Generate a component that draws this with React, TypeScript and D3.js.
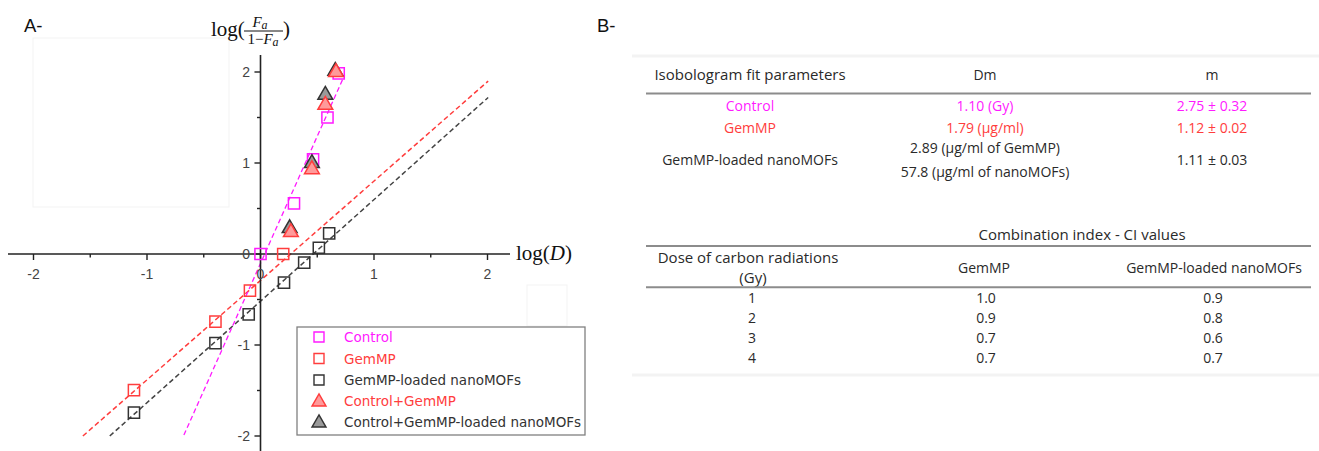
import React from "react";
import * as d3 from "d3";

// ---------- DATA ----------
const xTicks = [-2, -1, 0, 1, 2];
const xMinor = [-1.5, -0.5, 0.5, 1.5];
const yTicks = [-2, -1, 0, 1, 2];
const yMinor = [-1.5, -0.5, 0.5, 1.5];

const controlPts: [number, number][] = [
  [0, 0], [0.295, 0.557], [0.463, 1.04], [0.59, 1.5], [0.689, 1.985],
];
const gemPts: [number, number][] = [
  [-1.115, -1.495], [-0.397, -0.744], [-0.093, -0.403], [0.2, 0.0],
];
const nanoPts: [number, number][] = [
  [-1.115, -1.744], [-0.397, -0.98], [-0.104, -0.663], [0.207, -0.315],
  [0.385, -0.095], [0.514, 0.069], [0.605, 0.227],
];
const ctrlGemPts: [number, number][] = [
  [0.268, 0.238], [0.453, 0.93], [0.571, 1.637], [0.665, 1.997],
];
const ctrlNanoPts: [number, number][] = [
  [0.257, 0.282], [0.453, 0.997], [0.571, 1.747], [0.659, 2.01],
];

const controlFit: [number, number][] = [[-0.675, -1.99], [0.741, 1.967]];
const gemFit: [number, number][] = [[-1.565, -2.0], [2.006, 1.9]];
const nanoFit: [number, number][] = [[-1.328, -2.0], [2.006, 1.72]];

const legendLabels = [
  "Control",
  "GemMP",
  "GemMP-loaded nanoMOFs",
  "Control+GemMP",
  "Control+GemMP-loaded nanoMOFs",
];

const fitHeaders = ["Isobologram fit parameters", "Dm", "m"];
const fitNames = ["Control", "GemMP", "GemMP-loaded nanoMOFs"];
const fitDm = [["1.10 (Gy)"], ["1.79 (µg/ml)"], ["2.89 (µg/ml of GemMP)", "57.8 (µg/ml of nanoMOFs)"]];
const fitM = ["2.75 ± 0.32", "1.12 ± 0.02", "1.11 ± 0.03"];

const ciTitle = "Combination index - CI values";
const ciHeaders = [["Dose of carbon radiations", "(Gy)"], ["GemMP"], ["GemMP-loaded nanoMOFs"]];
const ciDoses = ["1", "2", "3", "4"];
const ciGemMP = ["1.0", "0.9", "0.7", "0.7"];
const ciNano = ["0.9", "0.8", "0.6", "0.7"];

// ---------- STYLE ----------
const MAGENTA = "#ff1aff";
const RED = "#ff3d3d";
const DARK = "#333333";
const TXT = "#2a2a2a";
const tableFont = "'Open Sans', 'Noto Sans', sans-serif";
const legendFont = "'DejaVu Sans', Verdana, sans-serif";
const tickFont = "'Liberation Sans', Arial, sans-serif";
const mathFont = "'Liberation Serif', 'Times New Roman', serif";
const TFS = 14;
const TFS_BIG = 15;

export default function App() {
  const x = d3.scaleLinear().domain([-2, 2]).range([33.5, 487.5]);
  const y = d3.scaleLinear().domain([-2, 2]).range([436, 72]);
  const x0 = x(0);
  const y0 = y(0);

  const sq = d3.symbol().type(d3.symbolSquare).size(125)() as string;
  const tri = d3.symbol().type(d3.symbolTriangle).size(95)() as string;
  const sqL = d3.symbol().type(d3.symbolSquare).size(100)() as string;
  const triL = d3.symbol().type(d3.symbolTriangle).size(85)() as string;

  const line = d3
    .line<[number, number]>()
    .x((d) => x(d[0]))
    .y((d) => y(d[1]));

  const squares = (pts: [number, number][], color: string) =>
    pts.map((p, i) => (
      <path
        key={i}
        d={sq}
        transform={`translate(${x(p[0])},${y(p[1])})`}
        fill="none"
        stroke={color}
        strokeWidth={1.5}
      />
    ));
  const triangles = (pts: [number, number][], fill: string, stroke: string) =>
    pts.map((p, i) => (
      <path
        key={i}
        d={tri}
        transform={`translate(${x(p[0])},${y(p[1])})`}
        fill={fill}
        stroke={stroke}
        strokeWidth={1.5}
      />
    ));

  const legendRows = [
    { sym: sqL, fill: "none", stroke: MAGENTA, color: MAGENTA },
    { sym: sqL, fill: "none", stroke: RED, color: RED },
    { sym: sqL, fill: "none", stroke: DARK, color: DARK },
    { sym: triL, fill: "#ff9a9a", stroke: RED, color: RED },
    { sym: triL, fill: "#9a9a9a", stroke: DARK, color: DARK },
  ];
  const legendY = [337, 358.5, 380, 401, 422];

  // table geometry
  const c1 = [750, 985, 1212];
  const c2 = [752, 986, 1213];
  const fitRowY = [105.7, 128.3, 160];
  const ciRowY = [298.3, 318.3, 338.3, 358.3];
  const fitColors = [MAGENTA, RED, TXT];

  const T = (props: { x: number; y: number; fill?: string; size?: number; children: React.ReactNode }) => (
    <text
      x={props.x}
      y={props.y}
      textAnchor="middle"
      fontFamily={tableFont}
      fontSize={props.size ?? TFS}
      fill={props.fill ?? TXT}
    >
      {props.children}
    </text>
  );

  return (
    <svg
      width={1319}
      height={451}
      style={{ position: "absolute", left: 0, top: 0, background: "#fff" }}
    >
      {/* faint scan artifacts */}
      <rect x={33} y={38} width={196} height={169} fill="none" stroke="#f3f3f3" strokeWidth={1} />
      <rect x={527} y={285} width={40} height={41} fill="none" stroke="#f3f3f3" strokeWidth={1} />
      <line x1={632} x2={1319} y1={56} y2={56} stroke="#f3f3f3" strokeWidth={3} />
      <line x1={632} x2={1319} y1={375} y2={375} stroke="#f3f3f3" strokeWidth={3} />

      {/* panel labels */}
      <text x={24} y={31.5} fontFamily={tickFont} fontSize={18.5} fill="#111">A-</text>
      <text x={597} y={31.5} fontFamily={tickFont} fontSize={18.5} fill="#111">B-</text>

      {/* ---- Panel A ---- */}
      <path d={line(gemFit) as string} fill="none" stroke={RED} strokeWidth={1.5} strokeDasharray="5,3" />
      <path d={line(nanoFit) as string} fill="none" stroke="#444" strokeWidth={1.5} strokeDasharray="5,3" />
      <path d={line(controlFit) as string} fill="none" stroke={MAGENTA} strokeWidth={1.3} strokeDasharray="5,3" />

      {/* axes */}
      <line x1={8} x2={510} y1={y0} y2={y0} stroke="#222" strokeWidth={1.6} />
      <line x1={x0} x2={x0} y1={55} y2={451} stroke="#222" strokeWidth={1.6} />
      {xTicks.map((t) => (
        <line key={"xt" + t} x1={x(t)} x2={x(t)} y1={y0} y2={y0 + 6} stroke="#222" strokeWidth={1.4} />
      ))}
      {xMinor.map((t) => (
        <line key={"xm" + t} x1={x(t)} x2={x(t)} y1={y0} y2={y0 + 3.5} stroke="#222" strokeWidth={1.4} />
      ))}
      {yTicks.map((t) => (
        <line key={"yt" + t} x1={x0 - 6} x2={x0} y1={y(t)} y2={y(t)} stroke="#222" strokeWidth={1.4} />
      ))}
      {yMinor.map((t) => (
        <line key={"ym" + t} x1={x0 - 3.5} x2={x0} y1={y(t)} y2={y(t)} stroke="#222" strokeWidth={1.4} />
      ))}
      {xTicks.map((t) => (
        <text key={"xl" + t} x={x(t)} y={279} textAnchor="middle" fontFamily={tickFont} fontSize={14} fill="#444">
          {t < 0 ? "-" + Math.abs(t) : String(t)}
        </text>
      ))}
      {yTicks.map((t) => (
        <text key={"yl" + t} x={250} y={y(t) + 5} textAnchor="end" fontFamily={tickFont} fontSize={14} fill="#444">
          {t < 0 ? "-" + Math.abs(t) : String(t)}
        </text>
      ))}

      {/* axis titles */}
      <text x={516} y={260} fontFamily={mathFont} fontSize={21} fill="#111">
        log(<tspan fontStyle="italic">D</tspan>)
      </text>
      <text x={211} y={35.5} fontFamily={mathFont} fontSize={21} fill="#111">log(</text>
      <text x={260} y={27} textAnchor="middle" fontFamily={mathFont} fontSize={15} fill="#111" fontStyle="italic">
        F<tspan fontSize={12} dy={2}>a</tspan>
      </text>
      <line x1={244} x2={283} y1={31} y2={31} stroke="#111" strokeWidth={1} />
      <text x={263} y={44} textAnchor="middle" fontFamily={mathFont} fontSize={15} fill="#111">
        1−<tspan fontStyle="italic">F</tspan><tspan fontStyle="italic" fontSize={12} dy={2}>a</tspan>
      </text>
      <text x={283} y={35.5} fontFamily={mathFont} fontSize={21} fill="#111">)</text>

      {/* markers */}
      {squares(gemPts, RED)}
      {squares(nanoPts, DARK)}
      {squares(controlPts, MAGENTA)}
      {triangles(ctrlNanoPts, "#9a9a9a", DARK)}
      {triangles(ctrlGemPts, "#ff9a9a", RED)}

      {/* legend */}
      <rect x={297} y={327} width={288} height={108} fill="#fff" stroke="#808080" strokeWidth={1.3} />
      {legendLabels.map((lab, i) => (
        <g key={lab}>
          <path
            d={legendRows[i].sym}
            transform={`translate(319,${legendY[i] + (i >= 3 ? 1 : 0)})`}
            fill={legendRows[i].fill}
            stroke={legendRows[i].stroke}
            strokeWidth={1.4}
          />
          <text x={344} y={legendY[i] + 5} fontFamily={legendFont} fontSize={13.5} fill={legendRows[i].color}>
            {lab}
          </text>
        </g>
      ))}

      {/* ---- Panel B ---- */}
      {fitHeaders.map((h, i) => (
        <T key={h} x={c1[i]} y={79.5} size={i === 0 ? TFS_BIG : TFS}>{h}</T>
      ))}
      <line x1={646} x2={1311} y1={93.5} y2={93.5} stroke="#8c8c8c" strokeWidth={2} />
      {fitNames.map((n, i) => (
        <g key={n}>
          <T x={c1[0]} y={fitRowY[i] + 5} fill={fitColors[i]}>{n}</T>
          {fitDm[i].length === 1 ? (
            <T x={c1[1]} y={fitRowY[i] + 5} fill={fitColors[i]}>{fitDm[i][0]}</T>
          ) : (
            fitDm[i].map((s, j) => (
              <T key={s} x={c1[1]} y={(j === 0 ? 148.3 : 171.7) + 5} fill={fitColors[i]}>{s}</T>
            ))
          )}
          <T x={c1[2]} y={fitRowY[i] + 5} fill={fitColors[i]}>{fitM[i]}</T>
        </g>
      ))}

      <T x={1082} y={239.5} size={TFS_BIG}>{ciTitle}</T>
      <line x1={646} x2={1311} y1={246} y2={246} stroke="#8c8c8c" strokeWidth={2} />
      <T x={748} y={263} size={TFS_BIG}>{ciHeaders[0][0]}</T>
      <T x={753} y={283.3} size={TFS_BIG}>{ciHeaders[0][1]}</T>
      <T x={984} y={273.3}>{ciHeaders[1][0]}</T>
      <T x={1214} y={273.3}>{ciHeaders[2][0]}</T>
      <line x1={646} x2={1311} y1={287.3} y2={287.3} stroke="#8c8c8c" strokeWidth={2} />
      {ciDoses.map((d, i) => (
        <g key={"ci" + i}>
          <T x={c2[0]} y={ciRowY[i] + 5}>{d}</T>
          <T x={c2[1]} y={ciRowY[i] + 5}>{ciGemMP[i]}</T>
          <T x={c2[2]} y={ciRowY[i] + 5}>{ciNano[i]}</T>
        </g>
      ))}
    </svg>
  );
}
